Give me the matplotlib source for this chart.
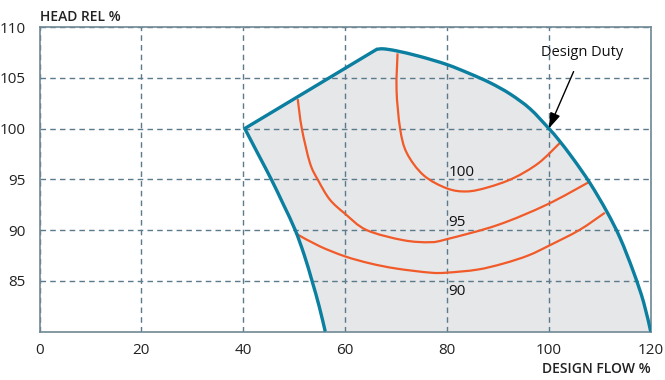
import matplotlib
matplotlib.use('Agg')
import matplotlib.pyplot as plt
from matplotlib.path import Path
from matplotlib.patches import PathPatch
import numpy as np

plt.rcParams['font.family'] = ['Open Sans', 'DejaVu Sans']

# Operating envelope (flow %, head %)
top_x = [40.3, 66.2]
top_y = [100.0, 107.8]
right_x = [66.2, 67.5, 70.1, 74.7, 80.0, 84.5, 88.5, 92.4, 96.3, 100.0, 101.9, 104.8, 108.1,
           111.4, 114.0, 116.6, 118.6, 120.0]
right_y = [107.8, 107.85, 107.65, 107.1, 106.3, 105.4, 104.5, 103.4, 101.95, 100.0, 98.9, 97.0,
           94.6, 91.8, 89.2, 85.9, 82.9, 80.0]
left_x = [40.3, 42.9, 45.5, 47.9, 50.2, 52.0, 53.5, 54.9, 56.1]
left_y = [100.0, 97.5, 95.0, 92.5, 90.0, 87.5, 85.0, 82.5, 80.0]

# Efficiency contours
eff100_x = [70.3, 70.1, 70.8, 72.1, 75.4, 80.0, 83.9, 88.0, 93.0, 98.0, 102.2]
eff100_y = [107.4, 103.8, 100.0, 97.6, 95.4, 94.1, 93.8, 94.2, 95.1, 96.6, 98.6]
eff95_x = [50.7, 51.5, 53.1, 54.7, 57.0, 60.0, 64.2, 71.4, 76.7, 80.0, 90.0, 99.6, 107.8]
eff95_y = [102.9, 100.0, 96.6, 94.9, 93.0, 91.6, 90.0, 89.0, 88.8, 89.1, 90.5, 92.5, 94.7]
eff90_x = [50.5, 55.0, 60.0, 65.0, 70.1, 76.7, 80.0, 86.0, 91.1, 96.0, 100.2, 106.0, 111.0]
eff90_y = [89.6, 88.4, 87.4, 86.7, 86.2, 85.8, 85.8, 86.1, 86.7, 87.5, 88.5, 90.0, 91.7]
labels = ['100', '95', '90']
label_x = [80.3, 80.3, 80.3]
label_y = [95.7, 90.7, 83.9]

teal = '#0b7fa0'
orange = '#f15a29'
gridc = '#5b7a8b'


def smooth_segments(xs, ys):
    # Catmull-Rom through the points, as cubic bezier path pieces
    p = np.column_stack([xs, ys])
    n = len(p)
    verts, codes = [], []
    for i in range(n - 1):
        p0 = p[i - 1] if i > 0 else p[i]
        p3 = p[i + 2] if i + 2 < n else p[i + 1]
        c1 = p[i] + (p[i + 1] - p0) / 6
        c2 = p[i + 1] - (p3 - p[i]) / 6
        verts += [c1, c2, p[i + 1]]
        codes += [Path.CURVE4] * 3
    return verts, codes


def smooth_path(xs, ys):
    v, c = smooth_segments(xs, ys)
    return Path([(xs[0], ys[0])] + v, [Path.MOVETO] + c)


fig = plt.figure(figsize=(6.65, 3.8), dpi=100)
ax = fig.add_axes([0.0594, 0.1276, 0.9191, 0.8013])

# shaded region
rv, rc = smooth_segments(right_x, right_y)
lv, lc = smooth_segments(left_x[::-1], left_y[::-1])
verts = [(top_x[0], top_y[0]), (top_x[1], top_y[1])] + rv + [(left_x[-1], left_y[-1])] + lv
codes = [Path.MOVETO, Path.LINETO] + rc + [Path.LINETO] + lc
ax.add_patch(PathPatch(Path(verts, codes), facecolor='#e6e7e9', edgecolor='none', zorder=1))

ax.set_xlim(0, 120)
ax.set_ylim(80, 110)
ax.set_xticks(range(0, 121, 20))
ax.set_yticks(range(85, 111, 5))
ax.grid(True, color=gridc, linestyle=(0, (4, 3)), linewidth=1.0, zorder=2)
ax.tick_params(length=0, labelsize=11, colors='#222222', pad=8)
ax.tick_params(axis='y', pad=10)
for s in ax.spines.values():
    s.set_color('#6f8894')
    s.set_linewidth(1.2)

for xs, ys in [(eff100_x, eff100_y), (eff95_x, eff95_y), (eff90_x, eff90_y)]:
    ax.add_patch(PathPatch(smooth_path(xs, ys), facecolor='none', edgecolor=orange,
                           lw=1.6, zorder=3, capstyle='butt'))

ax.plot(top_x, top_y, color=teal, lw=2.4, zorder=4, solid_capstyle='round')
ax.add_patch(PathPatch(smooth_path(right_x, right_y), facecolor='none', edgecolor=teal,
                       lw=2.4, zorder=4, capstyle='butt'))
ax.add_patch(PathPatch(smooth_path(left_x, left_y), facecolor='none', edgecolor=teal,
                       lw=2.4, zorder=4, capstyle='butt'))

for t, lx, ly in zip(labels, label_x, label_y):
    ax.text(lx, ly, t, fontsize=11, color='#111111',
            ha='left', va='center', zorder=5)

ax.annotate('Design Duty', xy=(100.0, 100.0), xytext=(106.5, 107.5),
            fontsize=10.5, ha='center', va='center', color='#111111', zorder=6,
            arrowprops=dict(arrowstyle='-|>,head_length=0.9,head_width=0.3',
                            color='black', lw=1.0, shrinkA=7, shrinkB=0))

fig.text(0.0594, 0.955, 'HEAD REL %', fontsize=10, fontweight='semibold',
         ha='left', va='center', color='#222222')
fig.text(0.979, 0.03, 'DESIGN FLOW %', fontsize=10, fontweight='semibold',
         ha='right', va='center', color='#222222')

fig.savefig('out.png', dpi=100)
